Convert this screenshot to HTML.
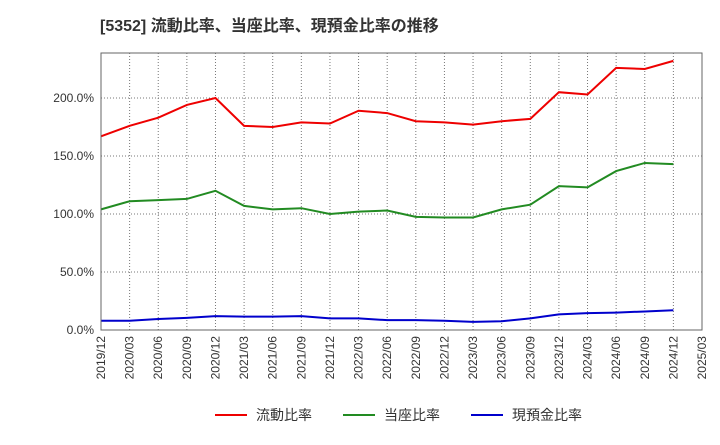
<!DOCTYPE html>
<html><head><meta charset="utf-8"><style>
body{margin:0;background:#fff;font-family:"Liberation Sans","Noto Sans CJK JP",sans-serif;}
</style></head><body>
<svg width="720" height="440" xmlns="http://www.w3.org/2000/svg" font-family="Liberation Sans, Noto Sans CJK JP, sans-serif">
<text x="100" y="31" font-size="16" font-weight="bold" fill="#333">[5352]  流動比率、当座比率、現預金比率の推移</text>
<g id="grid"></g>
<g id="series"></g>
<rect x="101" y="53" width="601" height="277" fill="none" stroke="#666"/>
<g id="axes"></g>
<g font-size="14" fill="#333">
<line x1="215" y1="415" x2="247" y2="415" stroke="#e00" stroke-width="2"/><text x="256" y="420">流動比率</text>
<line x1="343" y1="415" x2="375" y2="415" stroke="#228b22" stroke-width="2"/><text x="384" y="420">当座比率</text>
<line x1="471" y1="415" x2="503" y2="415" stroke="#00c" stroke-width="2"/><text x="512" y="420">現預金比率</text>
</g>
</svg>
<script>
const categories=["2019/12","2020/03","2020/06","2020/09","2020/12","2021/03","2021/06","2021/09","2021/12","2022/03","2022/06","2022/09","2022/12","2023/03","2023/06","2023/09","2023/12","2024/03","2024/06","2024/09","2024/12","2025/03"];
const currentRatio=[167,176,183,194,200,176,175,179,178,189,187,180,179,177,180,182,205,203,226,225,232];
const quickRatio=[104,111,112,113,120,107,104,105,100,102,103,97.5,97,97,104,108,124,123,137,144,143];
const cashRatio=[8,8,9.5,10.5,12,11.5,11.5,12,10,10,8.5,8.5,8,7,7.5,10,13.5,14.5,15,16,17];
const yTicks=[0,50,100,150,200];
const yTickLabels=["0.0%","50.0%","100.0%","150.0%","200.0%"];
const NS="http://www.w3.org/2000/svg";
const x0=101,x1=702,y0=330,pxPer=1.16;
const xs=i=>x0+i*(x1-x0)/(categories.length-1);
const ys=v=>y0-v*pxPer;
const grid=document.getElementById('grid'),axes=document.getElementById('axes'),ser=document.getElementById('series');
function mk(tag,attrs,parent){const e=document.createElementNS(NS,tag);for(const k in attrs)e.setAttribute(k,attrs[k]);parent.appendChild(e);return e;}
categories.forEach((c,i)=>{
  const l=mk('line',{x1:xs(i),x2:xs(i),y1:53,y2:330,stroke:'#777','stroke-dasharray':'1,2'},grid);
  
  
  const t=mk('text',{transform:`translate(${xs(i)+4},336) rotate(-90)`,'text-anchor':'end','font-size':'12',fill:'#333'},axes);
  t.textContent=c;
  
  
});
yTicks.forEach((v,i)=>{
  const l=mk('line',{x1:101,x2:702,y1:ys(v),y2:ys(v),stroke:'#777','stroke-dasharray':'1,2'},grid);
  
  
  const t=mk('text',{x:94,y:ys(v)+4,'text-anchor':'end','font-size':'12',fill:'#333'},axes);
  t.textContent=yTickLabels[i];
  
  
});
[[currentRatio,'#e00','current-ratio-line'],[quickRatio,'#228b22','quick-ratio-line'],[cashRatio,'#00c','cash-ratio-line']].forEach(([d,c,n])=>{
  const p=mk('polyline',{points:d.map((v,i)=>xs(i)+','+ys(v)).join(' '),fill:'none',stroke:c,'stroke-width':'2'},ser);
  
  
});
</script>
</body></html>
